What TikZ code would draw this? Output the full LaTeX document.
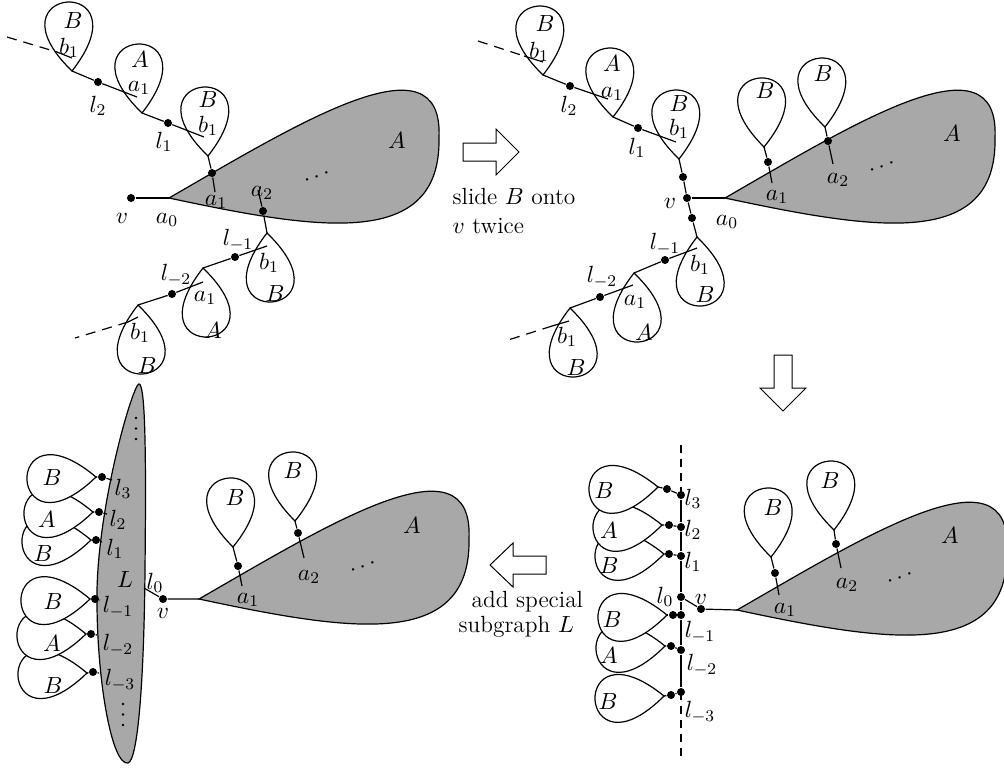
\RequirePackage{fix-cm}
\documentclass[tikz,border=0pt]{standalone}
\usepackage{tikz}
\definecolor{shade}{gray}{0.66}
\newcommand{\drp}[2]{\draw[dropst] (#1) .. controls +(#2+42:124) and +(#2-42:124) .. (#1) -- cycle;}
\newcommand{\bigA}[1]{\draw[blobst, shift={(#1)}] (0,0) .. controls (130,75) and (275,165) .. (270,60) .. controls (272,-52) and (150,-32) .. (0,0) -- cycle;}
\begin{document}
\begin{tikzpicture}[x=0.5pt, y=0.5pt, line width=0.6pt, font=\fontsize{11.7}{14}\selectfont,
  dot/.style={circle, fill=black, draw=none, inner sep=0pt, minimum size=4pt},
  tinydot/.style={circle, fill=black, draw=none, inner sep=0pt, minimum size=1.3pt},
  lab/.style={inner sep=0pt},
  dropst/.style={draw, fill=white},
  blobst/.style={draw, fill=shade},
  dsh/.style={dash pattern=on 5pt off 3.5pt},
  vdsh/.style={dash pattern=on 4pt off 3pt},
  arrowst/.style={draw, fill=white, line width=0.5pt}]
\useasboundingbox (0,0) rectangle (1004,-767);

% ================= PANEL 1 =================
\coordinate (p1a0) at (169,-198);
\coordinate (p1bt1) at (72,-71);
\coordinate (p1at) at (142,-113);
\coordinate (p1bt2) at (208,-156);
\coordinate (p1bl1) at (267,-233);
\coordinate (p1al) at (203,-268);
\coordinate (p1bl2) at (138,-305);
\bigA{p1a0}
\drp{p1bt1}{94}
\drp{p1at}{94}
\drp{p1bt2}{94}
\drp{p1bl1}{-86}
\drp{p1al}{-86}
\drp{p1bl2}{-86}
\coordinate (p1d1s) at (7,-37);
\coordinate (p1d1e) at (57,-52);
\coordinate (p1s1) at (72,-58);
\draw[dsh] (p1d1s) -- (p1d1e);
\draw (p1d1e) -- (p1s1);
\node[dot] (p1l2) at (98,-82) {};
\coordinate (p1s2) at (137,-97);
\draw (p1bt1) -- (p1l2) -- (p1s2);
\node[dot] (p1l1) at (168,-123) {};
\coordinate (p1s3) at (204,-137);
\draw (p1at) -- (p1l1) -- (p1s3);
\node[dot] (p1x1) at (212,-173) {};
\coordinate (p1s4) at (215,-192);
\draw (p1bt2) -- (p1x1) -- (p1s4);
\node[dot] (p1v) at (131,-198) {};
\draw (p1v) -- (p1a0);
\coordinate (p1s5) at (258,-190);
\node[dot] (p1x2) at (263,-211) {};
\draw (p1s5) -- (p1x2) -- (p1bl1);
\coordinate (p1s6) at (267,-246);
\node[dot] (p1lm1) at (235,-257) {};
\draw (p1s6) -- (p1lm1) -- (p1al);
\coordinate (p1s7) at (203,-282);
\node[dot] (p1lm2) at (172,-294) {};
\draw (p1s7) -- (p1lm2) -- (p1bl2);
\coordinate (p1s8) at (138,-317);
\coordinate (p1d2s) at (128,-322);
\coordinate (p1d2e) at (75,-338);
\draw (p1s8) -- (p1d2s);
\draw[dsh] (p1d2s) -- (p1d2e);
% labels
\node[lab] (p1t1) at (73,-20) {$B$};
\node[lab] (p1t2) at (69,-48) {$b_1$};
\node[lab] (p1t3) at (140,-59) {$A$};
\node[lab] (p1t4) at (139,-88) {$a_1$};
\node[lab] (p1t5) at (98,-106) {$l_2$};
\node[lab] (p1t6) at (208,-99) {$B$};
\node[lab] (p1t7) at (208,-126) {$b_1$};
\node[lab] (p1t8) at (164,-142) {$l_1$};
\node[lab] (p1t9) at (216,-202) {$a_1$};
\node[lab] (p1t10) at (397,-140) {$A$};
\node[lab, rotate=22] (p1t11) at (317,-177) {$\cdots$};
\node[lab] (p1t12) at (122,-218) {$v$};
\node[lab] (p1t13) at (167,-220) {$a_0$};
\node[lab] (p1t14) at (262,-193) {$a_2$};
\node[lab] (p1t15) at (238,-240) {$l_{-1}$};
\node[lab] (p1t16) at (269,-263) {$b_1$};
\node[lab] (p1t17) at (275,-293) {$B$};
\node[lab] (p1t18) at (176,-275) {$l_{-2}$};
\node[lab] (p1t19) at (205,-298) {$a_1$};
\node[lab] (p1t20) at (213,-330) {$A$};
\node[lab] (p1t21) at (140,-333) {$b_1$};
\node[lab] (p1t22) at (147,-365) {$B$};

% ================= PANEL 2 =================
\coordinate (p2a0) at (725,-198);
\coordinate (p2bt1) at (543,-75);
\coordinate (p2at) at (613,-117);
\coordinate (p2bt2) at (679,-159);
\coordinate (p2bl1) at (697,-237);
\coordinate (p2al) at (634,-273);
\coordinate (p2bl2) at (570,-308);
\coordinate (p2ba1) at (764,-147);
\coordinate (p2ba2) at (825,-127);
\bigA{p2a0}
\drp{p2bt1}{94}
\drp{p2at}{94}
\drp{p2bt2}{94}
\drp{p2ba1}{93}
\drp{p2ba2}{94}
\drp{p2bl1}{-86}
\drp{p2al}{-86}
\drp{p2bl2}{-86}
\coordinate (p2d1s) at (478,-41);
\coordinate (p2d1e) at (524,-56);
\coordinate (p2s1) at (543,-62);
\draw[dsh] (p2d1s) -- (p2d1e);
\draw (p2d1e) -- (p2s1);
\node[dot] (p2l2) at (570,-86) {};
\coordinate (p2s2) at (608,-99);
\draw (p2bt1) -- (p2l2) -- (p2s2);
\node[dot] (p2l1) at (638,-128) {};
\coordinate (p2s3) at (676,-142);
\draw (p2at) -- (p2l1) -- (p2s3);
\node[dot] (p2x1) at (683,-177) {};
\node[dot] (p2v) at (687,-198) {};
\node[dot] (p2x2) at (692,-218) {};
\draw (p2bt2) -- (p2x1) -- (p2v) -- (p2x2) -- (p2bl1);
\draw (p2v) -- (p2a0);
\node[dot] (p2y1) at (768,-162) {};
\coordinate (p2s4) at (772,-183);
\draw (p2ba1) -- (p2y1) -- (p2s4);
\node[dot] (p2y2) at (828,-141) {};
\coordinate (p2s5) at (833,-164);
\draw (p2ba2) -- (p2y2) -- (p2s5);
\coordinate (p2s6) at (697,-248);
\node[dot] (p2lm1) at (665,-260) {};
\draw (p2s6) -- (p2lm1) -- (p2al);
\coordinate (p2s7) at (633,-285);
\node[dot] (p2lm2) at (600,-297) {};
\draw (p2s7) -- (p2lm2) -- (p2bl2);
\coordinate (p2s8) at (569,-321);
\coordinate (p2d2s) at (552,-326);
\coordinate (p2d2e) at (505,-341);
\draw (p2s8) -- (p2d2s);
\draw[dsh] (p2d2s) -- (p2d2e);
\node[lab] (p2t1) at (545,-23) {$B$};
\node[lab] (p2t2) at (539,-52) {$b_1$};
\node[lab] (p2t3) at (612,-63) {$A$};
\node[lab] (p2t4) at (612,-94) {$a_1$};
\node[lab] (p2t5) at (569,-106) {$l_2$};
\node[lab] (p2t6) at (679,-103) {$B$};
\node[lab] (p2t7) at (679,-129) {$b_1$};
\node[lab] (p2t8) at (637,-148) {$l_1$};
\node[lab] (p2t9) at (670,-203) {$v$};
\node[lab] (p2t10) at (727,-222) {$a_0$};
\node[lab] (p2t11) at (952,-133) {$A$};
\node[lab, rotate=22] (p2t12) at (882,-167) {$\cdots$};
\node[lab] (p2t13) at (765,-90) {$B$};
\node[lab] (p2t14) at (777,-197) {$a_1$};
\node[lab] (p2t15) at (823,-73) {$B$};
\node[lab] (p2t16) at (838,-180) {$a_2$};
\node[lab] (p2t17) at (665,-244) {$l_{-1}$};
\node[lab] (p2t18) at (700,-265) {$b_1$};
\node[lab] (p2t19) at (705,-294) {$B$};
\node[lab] (p2t20) at (602,-277) {$l_{-2}$};
\node[lab] (p2t21) at (635,-302) {$a_1$};
\node[lab] (p2t22) at (644,-332) {$A$};
\node[lab] (p2t23) at (567,-337) {$b_1$};
\node[lab] (p2t24) at (576,-367) {$B$};

% ================= PANEL 3 =================
\draw[blobst] (139,-384) .. controls (146,-384) and (146,-470) .. (145,-570)
  .. controls (144,-680) and (138,-760) .. (128,-763)
  .. controls (112,-766) and (96,-680) .. (97,-590)
  .. controls (99,-500) and (133,-384) .. cycle;
\coordinate (p3a0) at (199,-599);
\coordinate (p3ba1) at (233,-547);
\coordinate (p3ba2) at (295,-521);
\bigA{p3a0}
\drp{p3ba1}{93}
\drp{p3ba2}{93}
\coordinate (p3c1) at (91,-540);
\coordinate (p3c2) at (93,-512);
\coordinate (p3c3) at (96,-477);
\coordinate (p3cm3) at (87,-673);
\coordinate (p3cm2) at (86,-634);
\coordinate (p3cm1) at (90,-599);
\drp{p3c1}{182}
\drp{p3c2}{182}
\drp{p3c3}{182}
\drp{p3cm3}{182}
\drp{p3cm2}{182}
\drp{p3cm1}{182}
\node[dot] (p3l3) at (102,-477) {};
\node[dot] (p3l2) at (99,-512) {};
\node[dot] (p3l1) at (96,-540) {};
\node[dot] (p3lm1) at (95,-599) {};
\node[dot] (p3lm2) at (91,-634) {};
\node[dot] (p3lm3) at (93,-672) {};
\coordinate (p3s3) at (112,-480);
\coordinate (p3s2) at (107,-514);
\coordinate (p3s1) at (102,-542);
\coordinate (p3sm1) at (100,-600);
\coordinate (p3sm2) at (97,-635);
\coordinate (p3sm3) at (99,-673);
\draw (p3c3) -- (p3l3) -- (p3s3);
\draw (p3c2) -- (p3l2) -- (p3s2);
\draw (p3c1) -- (p3l1) -- (p3s1);
\draw (p3cm1) -- (p3lm1) -- (p3sm1);
\draw (p3cm2) -- (p3lm2) -- (p3sm2);
\draw (p3cm3) -- (p3lm3) -- (p3sm3);
\coordinate (p3l0) at (144,-588);
\node[dot] (p3v) at (163,-599) {};
\draw (p3l0) -- (p3v) -- (p3a0);
\node[dot] (p3y1) at (238,-566) {};
\coordinate (p3s4) at (242,-586);
\draw (p3ba1) -- (p3y1) -- (p3s4);
\node[dot] (p3y2) at (298,-533) {};
\coordinate (p3s5) at (304,-558);
\draw (p3ba2) -- (p3y2) -- (p3s5);
% vertical ellipsis dots inside L
\node[tinydot] (p3u1) at (136,-418) {};
\node[tinydot] (p3u2) at (136,-428.5) {};
\node[tinydot] (p3u3) at (136,-439) {};
\node[tinydot] (p3w1) at (123,-704) {};
\node[tinydot] (p3w2) at (123,-714.5) {};
\node[tinydot] (p3w3) at (123,-725) {};
\node[lab] (p3t3) at (125,-579) {$L$};
\node[lab] (p3t4) at (155,-583) {$l_0$};
\node[lab] (p3t5) at (163,-613) {$v$};
\node[lab] (p3t6) at (412,-525) {$A$};
\node[lab, rotate=22] (p3t7) at (363,-567) {$\cdots$};
\node[lab] (p3t8) at (235,-497) {$B$};
\node[lab] (p3t9) at (248,-600) {$a_1$};
\node[lab] (p3t10) at (293,-470) {$B$};
\node[lab] (p3t11) at (309,-577) {$a_2$};
\node[lab] (p3t12) at (123,-489) {$l_3$};
\node[lab] (p3t13) at (52,-477) {$B$};
\node[lab] (p3t14) at (118,-520) {$l_2$};
\node[lab] (p3t15) at (47,-519) {$A$};
\node[lab] (p3t16) at (115,-549) {$l_1$};
\node[lab] (p3t17) at (43,-553) {$B$};
\node[lab] (p3t18) at (118,-607) {$l_{-1}$};
\node[lab] (p3t19) at (53,-601) {$B$};
\node[lab] (p3t20) at (118,-645) {$l_{-2}$};
\node[lab] (p3t21) at (52,-643) {$A$};
\node[lab] (p3t22) at (120,-680) {$l_{-3}$};
\node[lab] (p3t23) at (53,-685) {$B$};

% ================= PANEL 4 =================
\coordinate (p4a0) at (737,-610);
\coordinate (p4ba1) at (771,-557);
\coordinate (p4ba2) at (834,-530);
\bigA{p4a0}
\drp{p4ba1}{93.5}
\drp{p4ba2}{94}
\coordinate (p4c1) at (664,-554);
\coordinate (p4c2) at (662,-525);
\coordinate (p4c3) at (658,-487);
\coordinate (p4cm3) at (664,-696);
\coordinate (p4cm2) at (665,-646);
\coordinate (p4cm1) at (667,-615);
\drp{p4c1}{183}
\drp{p4c2}{183}
\drp{p4c3}{183}
\drp{p4cm3}{183}
\drp{p4cm2}{183}
\drp{p4cm1}{183}
\coordinate (p4top) at (681,-445);
\coordinate (p4bot) at (681,-760);
\node[dot] (p4l3) at (681,-495) {};
\node[dot] (p4l2) at (681,-527) {};
\node[dot] (p4l1) at (681,-556) {};
\node[dot] (p4l0) at (681,-597) {};
\node[dot] (p4lm1) at (681,-615) {};
\node[dot] (p4lm2) at (681,-650) {};
\node[dot] (p4lm3) at (681,-692) {};
\draw[vdsh] (p4top) -- (p4l3.center);
\draw[vdsh] (p4lm3.center) -- (p4bot);
\draw (p4l3) -- (p4l2) -- (p4l1) -- (p4l0) -- (p4lm1) -- (p4lm2) -- (p4lm3);
\node[dot] (p4e3) at (667,-489) {};
\node[dot] (p4e2) at (669,-525) {};
\node[dot] (p4e1) at (669,-554) {};
\node[dot] (p4em1) at (673,-615) {};
\node[dot] (p4em2) at (671,-646) {};
\node[dot] (p4em3) at (671,-695) {};
\draw (p4c3) -- (p4e3) -- (p4l3);
\draw (p4c2) -- (p4e2) -- (p4l2);
\draw (p4c1) -- (p4e1) -- (p4l1);
\draw (p4cm1) -- (p4em1) -- (p4lm1);
\draw (p4cm2) -- (p4em2) -- (p4lm2);
\draw (p4cm3) -- (p4em3) -- (p4lm3);
\node[dot] (p4v) at (701,-609) {};
\draw (p4l0) -- (p4v) -- (p4a0);
\node[dot] (p4y1) at (775,-573) {};
\coordinate (p4s4) at (779,-595);
\draw (p4ba1) -- (p4y1) -- (p4s4);
\node[dot] (p4y2) at (836,-544) {};
\coordinate (p4s5) at (841,-568);
\draw (p4ba2) -- (p4y2) -- (p4s5);
\node[lab] (p4t1) at (693,-499) {$l_3$};
\node[lab] (p4t2) at (604,-490) {$B$};
\node[lab] (p4t3) at (693,-530) {$l_2$};
\node[lab] (p4t4) at (609,-530) {$A$};
\node[lab] (p4t5) at (693,-562) {$l_1$};
\node[lab] (p4t6) at (609,-565) {$B$};
\node[lab] (p4t7) at (665,-597) {$l_0$};
\node[lab] (p4t8) at (701,-599) {$v$};
\node[lab] (p4t9) at (700,-632) {$l_{-1}$};
\node[lab] (p4t10) at (612,-619) {$B$};
\node[lab] (p4t11) at (702,-665) {$l_{-2}$};
\node[lab] (p4t12) at (609,-655) {$A$};
\node[lab] (p4t13) at (700,-712) {$l_{-3}$};
\node[lab] (p4t14) at (608,-701) {$B$};
\node[lab] (p4t15) at (950,-535) {$A$};
\node[lab, rotate=22] (p4t16) at (900,-578) {$\cdots$};
\node[lab] (p4t17) at (773,-507) {$B$};
\node[lab] (p4t18) at (785,-610) {$a_1$};
\node[lab] (p4t19) at (830,-480) {$B$};
\node[lab] (p4t20) at (847,-585) {$a_2$};

% ================= ARROWS AND TEXT =================
\draw[arrowst] (463,-143) -- (496,-143) -- (496,-129) -- (519,-152) -- (496,-175) -- (496,-161) -- (463,-161) -- cycle;
\draw[arrowst] (774,-355) -- (792,-355) -- (792,-388) -- (806,-388) -- (783,-411) -- (760,-388) -- (774,-388) -- cycle;
\draw[arrowst] (546,-556) -- (513,-556) -- (513,-543) -- (490,-565) -- (513,-587) -- (513,-574) -- (546,-574) -- cycle;
\node[lab, anchor=base west] (txt1) at (452,-204) {slide $B$ onto};
\node[lab, anchor=base west] (txt2) at (452,-233) {$v$ twice};
\node[lab, anchor=base west] (txt3) at (471,-607) {add special};
\node[lab, anchor=base west] (txt4) at (458,-632) {subgraph $L$};
\end{tikzpicture}
\end{document}
